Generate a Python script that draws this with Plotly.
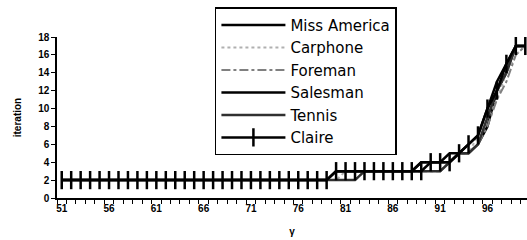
import plotly.graph_objects as go

categories = list(range(51, 101))

base = [2] * 29  # 51..79
miss_america = base + [3]*9 + [4]*4 + [5, 5, 6, 8, 12, 14, 17, 17]          # 80..100
carphone     = base + [2] + [3]*9 + [4]*3 + [5, 5, 7, 9, 11, 14, 16, 17]
foreman      = base + [2, 2, 2] + [3]*9 + [4] + [5, 5, 6, 8, 11, 13, 16, 17]
salesman     = base + [3]*9 + [4]*3 + [5, 5, 6, 7, 10, 13, 15, 17, 17]
tennis       = base + [2, 2, 2] + [3]*9 + [4] + [5, 5, 6, 9, 12, 14, 17, 17]
claire       = base + [3]*10 + [4]*3 + [5, 6, 7, 10, 12, 15, 17, 17]

series_names = ["Miss America", "Carphone", "Foreman", "Salesman", "Tennis", "Claire"]
series_vals = [miss_america, carphone, foreman, salesman, tennis, claire]
x_tick_labels = [51, 56, 61, 66, 71, 76, 81, 86, 91, 96]
y_tick_labels = list(range(0, 19, 2))

styles = [
    dict(color="#000000", width=2.5, dash="solid"),
    dict(color="#b0b0b0", width=2, dash="dot"),
    dict(color="#808080", width=2, dash="dashdot"),
    dict(color="#000000", width=2.5, dash="solid"),
    dict(color="#303030", width=2.5, dash="solid"),
    dict(color="#000000", width=2.5, dash="solid"),
]

FONT = "Arial, Liberation Sans, sans-serif"

fig = go.Figure()
for name, vals, st in zip(series_names, series_vals, styles):
    if name == "Claire":
        kw = dict(mode="lines+markers",
                  marker=dict(symbol="line-ns-open", size=13,
                              line=dict(color="#000000", width=2.5)))
    else:
        kw = dict(mode="lines")
    fig.add_trace(go.Scatter(x=categories, y=vals, name=name, line=st, **kw))

fig.update_layout(
    width=527, height=240,
    margin=dict(l=57, r=0, t=37, b=42),
    paper_bgcolor="white", plot_bgcolor="white",
    showlegend=True,
    legend=dict(
        x=0.336, y=1.185, xanchor="left", yanchor="top",
        bordercolor="#000000", borderwidth=1.5,
        font=dict(family="DejaVu Sans", size=15, color="#000000"),
        itemwidth=64, tracegroupgap=0, maxheight=220,
        bgcolor="white",
    ),
    font=dict(family=FONT, size=10, color="#000000"),
)

fig.update_xaxes(
    range=[50.5, 100.18], automargin=False,
    tickvals=x_tick_labels, ticktext=[str(v) for v in x_tick_labels],
    ticks="", showgrid=False, zeroline=False,
    showline=True, linecolor="#000000", linewidth=1.5,
    tickfont=dict(family=FONT, size=10, color="#000000", weight="bold"),
    minor=dict(ticks="outside", tick0=50.5, dtick=1, ticklen=4, tickcolor="#000000", showgrid=False),
    title=dict(text="γ", font=dict(family=FONT, size=10, color="#000000", weight="bold")),
)
fig.update_yaxes(
    range=[0, 18], tickvals=y_tick_labels, automargin=False,
    ticks="outside", ticklen=4, tickcolor="#000000",
    showgrid=False, zeroline=False,
    showline=True, linecolor="#000000", linewidth=1.5,
    tickfont=dict(family=FONT, size=10, color="#000000", weight="bold"),
    title=dict(text="iteration", font=dict(family=FONT, size=10, color="#000000", weight="bold")),
)

fig.write_html("out.html", config={"displayModeBar": False},
               post_script="document.body.style.margin='0';")
